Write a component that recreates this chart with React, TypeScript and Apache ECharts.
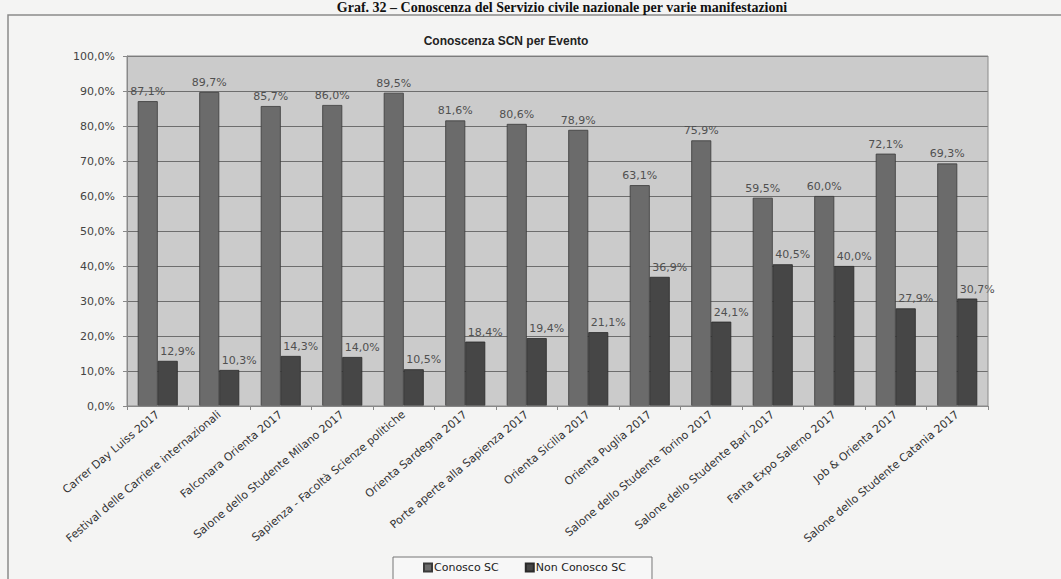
import React, { useEffect, useRef } from "react";
import * as echarts from "echarts";

const categories = [
  "Carrer Day Luiss 2017",
  "Festival delle Carriere internazionali",
  "Falconara Orienta 2017",
  "Salone dello Studente Milano 2017",
  "Sapienza - Facoltà Scienze politiche",
  "Orienta Sardegna 2017",
  "Porte aperte alla Sapienza 2017",
  "Orienta Sicilia 2017",
  "Orienta Puglia 2017",
  "Salone dello Studente Torino 2017",
  "Salone dello Studente Bari 2017",
  "Fanta Expo Salerno 2017",
  "Job & Orienta 2017",
  "Salone dello Studente Catania 2017",
];
const conosco = [87.1, 89.7, 85.7, 86.0, 89.5, 81.6, 80.6, 78.9, 63.1, 75.9, 59.5, 60.0, 72.1, 69.3];
const nonConosco = [12.9, 10.3, 14.3, 14.0, 10.5, 18.4, 19.4, 21.1, 36.9, 24.1, 40.5, 40.0, 27.9, 30.7];
const seriesNames = ["Conosco SC", "Non Conosco SC"];
const chartTitle = "Conoscenza SCN per Evento";
const pageTitle = "Graf. 32 – Conoscenza del Servizio civile nazionale per varie manifestazioni";

const fmt = (v: number) => v.toFixed(1).replace(".", ",") + "%";
const FONT = "'DejaVu Sans', sans-serif";

export default function App() {
  const ref = useRef<HTMLDivElement>(null);
  useEffect(() => {
    if (!ref.current) return;
    const chart = echarts.init(ref.current, null, { renderer: "svg" });
    chart.setOption({
      animation: false,
      backgroundColor: "#f4f4f3",
      title: {
        text: chartTitle,
        left: 501,
        textAlign: "center",
        top: 30,
        textStyle: { fontFamily: "'Liberation Sans', Arial, sans-serif", fontWeight: "bold", fontSize: 12, color: "#222" },
      },
      graphic: [
        {
          type: "rect",
          shape: { x: 8, y: 15, width: 1070, height: 600 },
          style: { fill: "none", stroke: "#8a8a8a", lineWidth: 1.5 },
          silent: true,
        },
        {
          type: "text",
          x: 562,
          y: 0,
          style: {
            text: pageTitle,
            font: "bold 14px 'Liberation Serif', 'Times New Roman', serif",
            fill: "#111",
            textAlign: "center",
          },
          silent: true,
        },
        {
          type: "rect",
          shape: { x: 127, y: 56, width: 861, height: 350 },
          style: { fill: "none", stroke: "#8a8a8a", lineWidth: 1 },
          silent: true,
          z: 10,
        },
      ],
      legend: {
        data: seriesNames,
        left: 393,
        top: 557,
        padding: [5, 26, 8, 30],
        itemGap: 26,
        itemWidth: 8,
        itemHeight: 8,
        borderColor: "#777",
        borderWidth: 1,
        backgroundColor: "#f7f7f7",
        icon: "rect",
        textStyle: { fontFamily: FONT, fontSize: 11, color: "#222", padding: [0, 0, 0, -3] },
      },
      grid: {
        left: 127,
        right: 73,
        top: 56,
        bottom: 173,
        show: true,
        backgroundColor: "#cbcbcb",
        borderWidth: 0,
      },
      xAxis: {
        type: "category",
        data: categories,
        axisLine: { lineStyle: { color: "#888", width: 1 } },
        axisTick: { show: true, length: 4, lineStyle: { color: "#888" } },
        axisLabel: {
          interval: 0,
          rotate: 40,
          margin: 7,
          fontFamily: FONT,
          fontSize: 11,
          color: "#333",
        },
      },
      yAxis: {
        type: "value",
        min: 0,
        max: 100,
        interval: 10,
        axisLine: { show: true, lineStyle: { color: "#888" } },
        axisTick: { show: true, length: 4, lineStyle: { color: "#888" } },
        splitLine: { lineStyle: { color: "#6e6e6e", width: 1 } },
        axisLabel: {
          margin: 12,
          fontFamily: FONT,
          fontSize: 11,
          color: "#444",
          formatter: (v: number) => fmt(v),
        },
      },
      series: [
        {
          name: seriesNames[0],
          type: "bar",
          data: conosco,
          barWidth: 20,
          barGap: "0%",
          itemStyle: { color: "#6b6b6b", borderColor: "#3a3a3a", borderWidth: 0.8 },
          label: {
            show: true,
            position: "top",
            distance: 4,
            fontFamily: FONT,
            fontSize: 11,
            color: "#505050",
            formatter: (p: any) => fmt(p.value),
          },
        },
        {
          name: seriesNames[1],
          type: "bar",
          data: nonConosco,
          barWidth: 20,
          barGap: "0%",
          itemStyle: { color: "#464646", borderColor: "#2a2a2a", borderWidth: 0.8 },
          label: {
            show: true,
            position: "top",
            distance: 4,
            offset: [10, 0],
            fontFamily: FONT,
            fontSize: 11,
            color: "#505050",
            formatter: (p: any) => fmt(p.value),
          },
        },
      ],
    });
    return () => chart.dispose();
  }, []);
  return (
    <div
      ref={ref}
      style={{ position: "fixed", left: 0, top: 0, width: 1061, height: 579 }}
    />
  );
}
